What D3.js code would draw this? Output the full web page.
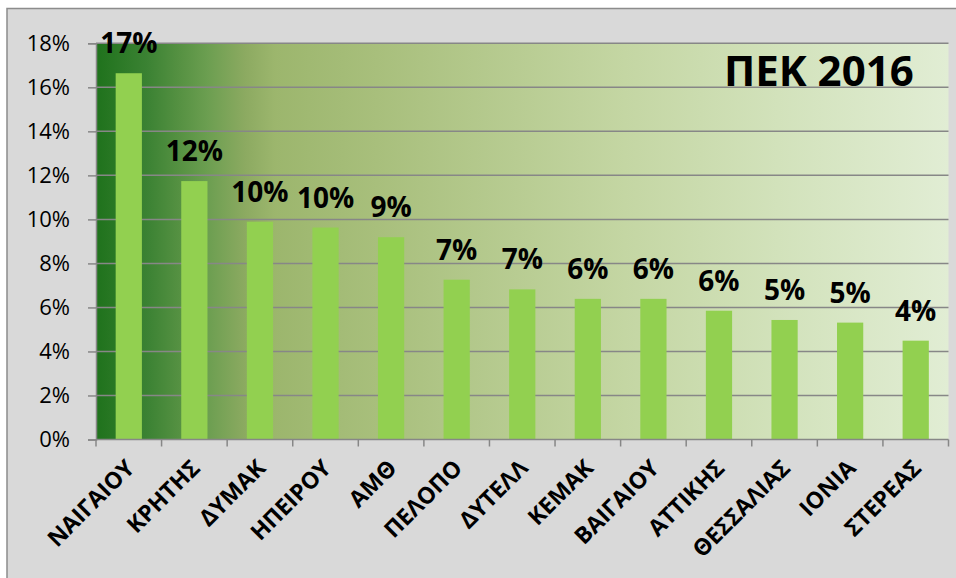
<!DOCTYPE html>
<html>
<head>
<meta charset="utf-8">
<script src="https://cdn.jsdelivr.net/npm/d3@7"></script>
<style>
  body { margin: 0; background: #fff; }
  svg text { font-family: "Open Sans", "DejaVu Sans", sans-serif; }
</style>
</head>
<body>
<div id="chart"></div>
<script>
// regions and their share
const regions = ["ΝΑΙΓΑΙΟΥ", "ΚΡΗΤΗΣ", "ΔΥΜΑΚ", "ΗΠΕΙΡΟΥ", "ΑΜΘ", "ΠΕΛΟΠΟ", "ΔΥΤΕΛΛ",
  "ΚΕΜΑΚ", "ΒΑΙΓΑΙΟΥ", "ΑΤΤΙΚΗΣ", "ΘΕΣΣΑΛΙΑΣ", "ΙΟΝΙΑ", "ΣΤΕΡΕΑΣ"];
const shares = [0.1664, 0.1174, 0.0989, 0.0963, 0.0919, 0.0726, 0.0682,
  0.0639, 0.0639, 0.0585, 0.0543, 0.0531, 0.0449];
const yTicks = [0, 0.02, 0.04, 0.06, 0.08, 0.10, 0.12, 0.14, 0.16, 0.18];
const title = "ΠΕΚ 2016";

var width = 956
var height = 578
// plot box (window.top is reserved, so no "top" here)
var plotL = 96, plotR = 948.5, plotT = 43.3, plotB = 439.5

var svg = d3.select("#chart")
  .append("svg")
    .attr("width", width)
    .attr("height", height)

// background gradient of the plot area
var grad = svg.append("defs").append("linearGradient")
    .attr("id", "plotbg")
    .attr("x1", "0%").attr("x2", "100%").attr("y1", "0%").attr("y2", "0%")
var stops = [[0, "#1f721c"], [0.06, "#3b8233"], [0.1, "#579243"], [0.13, "#6b9e50"],
  [0.175, "#8caa61"], [0.21, "#9cb66d"], [0.33, "#a8bf7c"], [0.62, "#c4d6a3"],
  [0.8, "#d2e2bb"], [1, "#e1edd4"]]
stops.forEach(s => grad.append("stop").attr("offset", s[0]).attr("stop-color", s[1]))

// chart area
svg.append("rect")
  .attr("x", 7).attr("y", 8.5)
  .attr("width", 960).attr("height", 580)
  .attr("fill", "#d9d9d9")
  .attr("stroke", "#8c8c8c")
  .attr("stroke-width", 1.5)

var x = d3.scaleBand()
  .domain(regions)
  .range([plotL, plotR])
  .paddingInner(0.6)
  .paddingOuter(0.3)

var y = d3.scaleLinear()
  .domain([0, 0.18])
  .range([plotB, plotT])

svg.append("rect")
  .attr("x", plotL).attr("y", plotT)
  .attr("width", plotR - plotL).attr("height", plotB - plotT)
  .attr("fill", "url(#plotbg)")

// gridlines
svg.append("g")
  .selectAll("line")
  .data(yTicks.slice(1))
  .enter().append("line")
    .attr("x1", plotL).attr("x2", plotR)
    .attr("y1", d => y(d)).attr("y2", d => y(d))
    .attr("stroke", "#878787")
    .attr("stroke-width", 1.5)

// y axis
var yAxis = svg.append("g")
  .attr("transform", "translate(" + plotL + ",0)")
  .call(d3.axisLeft(y).tickValues(yTicks).tickFormat(d3.format(".0%")).tickSize(8).tickPadding(18))
yAxis.select(".domain").attr("stroke", "#878787").attr("stroke-width", 1.5)
yAxis.selectAll(".tick line").attr("stroke", "#878787").attr("stroke-width", 1.5)
yAxis.selectAll("text")
  .attr("font-size", 22)
  .attr("fill", "#000")
  .style("font-family", "'Open Sans', sans-serif")

// bars
svg.append("g")
  .selectAll("rect")
  .data(shares)
  .enter().append("rect")
    .attr("x", (d, i) => x(regions[i]))
    .attr("y", d => y(d))
    .attr("width", x.bandwidth())
    .attr("height", d => y(0) - y(d))
    .attr("fill", "#92d050")

// value labels
svg.append("g")
  .selectAll("text")
  .data(shares)
  .enter().append("text")
    .attr("x", (d, i) => x(regions[i]) + x.bandwidth() / 2)
    .attr("y", d => y(d) - 20)
    .attr("text-anchor", "middle")
    .attr("font-size", 28)
    .attr("font-weight", "bold")
    .text(d => d3.format(".0%")(d))

// x axis with ticks on the category boundaries
var step = x.step()
var bounds = d3.range(regions.length + 1).map(i => plotL + i * step)
svg.append("line")
  .attr("x1", plotL).attr("x2", plotR)
  .attr("y1", plotB).attr("y2", plotB)
  .attr("stroke", "#878787").attr("stroke-width", 1.5)
svg.append("g")
  .selectAll("line")
  .data(bounds)
  .enter().append("line")
    .attr("x1", d => d).attr("x2", d => d)
    .attr("y1", plotB).attr("y2", plotB + 7)
    .attr("stroke", "#878787").attr("stroke-width", 1.5)

svg.append("g")
  .selectAll("text")
  .data(regions)
  .enter().append("text")
    .attr("transform", d => "translate(" + (x(d) + x.bandwidth() / 2 + 7) + "," + (plotB + 30) + ") rotate(-45)")
    .attr("text-anchor", "end")
    .attr("font-size", 23)
    .attr("font-weight", "bold")
    .text(d => d)

// title
svg.append("text")
  .attr("x", 724).attr("y", 86)
  .attr("font-size", 42)
  .attr("font-weight", "bold")
  .text(title)
</script>
</body>
</html>
